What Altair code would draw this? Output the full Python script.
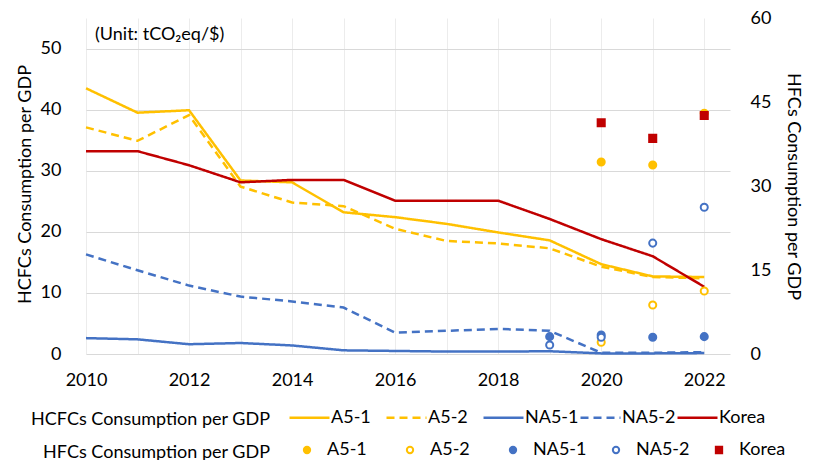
import altair as alt
import pandas as pd

years = list(range(2010, 2023))
series_order = ["A5-1", "A5-2", "NA5-1", "NA5-2", "Korea"]

# HCFCs consumption per GDP (left axis)
hcfc_a51 = [43.5, 39.5, 39.9, 28.4, 28.1, 23.2, 22.4, 21.3, 19.9, 18.6, 14.7, 12.7, 12.6]
hcfc_a52 = [37.1, 34.9, 39.1, 27.4, 24.8, 24.2, 20.5, 18.5, 18.1, 17.3, 14.3, 12.6, 12.4]
hcfc_na51 = [2.6, 2.4, 1.6, 1.8, 1.4, 0.6, 0.5, 0.4, 0.4, 0.45, 0.1, 0.1, 0.15]
hcfc_na52 = [16.3, 13.7, 11.2, 9.4, 8.6, 7.6, 3.5, 3.8, 4.1, 3.8, 0.2, 0.2, 0.3]
hcfc_korea = [33.2, 33.2, 30.9, 28.1, 28.5, 28.5, 25.1, 25.1, 25.1, 22.1, 18.8, 16.0, 11.0]

# HFCs consumption per GDP (right axis)
hfc_a51_years = [2020, 2021, 2022]
hfc_a51 = [34.3, 33.75, 43.0]
hfc_a52_years = [2020, 2021, 2022]
hfc_a52 = [2.1, 8.75, 11.25]
hfc_na51_years = [2019, 2020, 2021, 2022]
hfc_na51 = [3.1, 3.4, 3.0, 3.1]
hfc_na52_years = [2019, 2020, 2021, 2022]
hfc_na52 = [1.6, 3.0, 19.8, 26.2]
hfc_korea_years = [2020, 2021, 2022]
hfc_korea = [41.3, 38.5, 42.6]

left_ticks = [0, 10, 20, 30, 40, 50]
right_ticks = [0, 15, 30, 45, 60]
unit_text = "(Unit: tCO\u2082eq/$)"
row_titles = ["HCFCs Consumption per GDP", "HFCs Consumption per GDP"]

YELLOW = "#FFC000"
BLUE = "#4472C4"
RED = "#C00000"
FONT = "Lato"
FS = 18

rows = []
for name, vals in zip(series_order, [hcfc_a51, hcfc_a52, hcfc_na51, hcfc_na52, hcfc_korea]):
    for y, v in zip(years, vals):
        rows.append({"series": name, "year": y, "value": v})
lines_df = pd.DataFrame(rows)

prow = []
for name, ys, vals in zip(series_order,
                          [hfc_a51_years, hfc_a52_years, hfc_na51_years, hfc_na52_years, hfc_korea_years],
                          [hfc_a51, hfc_a52, hfc_na51, hfc_na52, hfc_korea]):
    for y, v in zip(ys, vals):
        prow.append({"hseries": name, "year": y, "value": v})
pts_df = pd.DataFrame(prow)

x_enc = alt.X(
    "year:Q",
    scale=alt.Scale(domain=[2010, 2022.5], nice=False, zero=False),
    axis=alt.Axis(values=years, labelExpr="datum.value % 2 == 0 ? datum.label : ''",
                  format="d", title=None, grid=True, gridColor="#ececec", ticks=False,
                  domain=False, labelPadding=17, labelFlush=False),
)

# the line legend's scale domain carries one unused extra entry so that Vega-Lite
# does not fold it into the marker legend (legends with identical domains are merged)
line_domain = series_order + ["_"]

line_legend = alt.Legend(title=None, orient="none", legendX=202, legendY=378, direction="horizontal",
                         columns=5, gridAlign="all", columnPadding=-9, labelOffset=0,
                         values=series_order,
                         symbolType="stroke", symbolSize=1600, symbolStrokeWidth=2.5,
                         labelFont=FONT, labelFontSize=FS, labelColor="black")

lines = alt.Chart(lines_df).mark_line(strokeWidth=2.5).encode(
    x=x_enc,
    y=alt.Y("value:Q", scale=alt.Scale(domain=[0, 55], nice=False),
            axis=alt.Axis(values=left_ticks, title="HCFCs Consumption per GDP", grid=True,
                          gridColor="#d9d9d9", ticks=False, domain=False, labelPadding=25,
                          titleX=-61, titleY=166, titleBaseline="middle")),
    color=alt.Color("series:N", scale=alt.Scale(domain=line_domain,
                                               range=[YELLOW, YELLOW, BLUE, BLUE, RED, "#000000"]),
                    legend=line_legend),
    strokeDash=alt.StrokeDash("series:N", scale=alt.Scale(domain=line_domain,
                                                         range=[[1, 0], [8, 5], [1, 0], [8, 5], [1, 0], [1, 0]]),
                              legend=line_legend),
)

pt_legend = alt.Legend(title=None, orient="none", legendX=202, legendY=423, direction="horizontal",
                       columns=5, gridAlign="all", columnPadding=10, labelOffset=11, symbolOffset=10,
                       symbolSize=40, symbolStrokeWidth=2, labelFont=FONT, labelFontSize=FS,
                       labelColor="black")

pts = alt.Chart(pts_df).mark_point(size=50, strokeWidth=2, opacity=1).encode(
    x=x_enc,
    y=alt.Y("value:Q", scale=alt.Scale(domain=[0, 60], nice=False),
            axis=alt.Axis(orient="right", values=right_ticks, title="HFCs Consumption per GDP",
                          grid=False, ticks=False, domain=False, labelPadding=20,
                          titleAngle=90, titleX=62, titleY=168, titleBaseline="middle")),
    shape=alt.Shape("hseries:N", scale=alt.Scale(domain=series_order,
                                                range=["circle", "circle", "circle", "circle", "square"]),
                    legend=pt_legend),
    fill=alt.Fill("hseries:N", scale=alt.Scale(domain=series_order,
                                              range=[YELLOW, "white", BLUE, "white", RED]),
                  legend=pt_legend),
    stroke=alt.Stroke("hseries:N", scale=alt.Scale(domain=series_order,
                                                  range=[YELLOW, YELLOW, BLUE, BLUE, RED]),
                      legend=pt_legend),
)

unit = alt.Chart(pd.DataFrame({"t": [unit_text]})).mark_text(
    align="left", baseline="middle", font=FONT, fontSize=FS, color="black"
).encode(text="t:N", x=alt.value(9), y=alt.value(17))

row_text1 = alt.Chart(pd.DataFrame({"t": [row_titles[0]]})).mark_text(
    align="right", baseline="middle", font=FONT, fontSize=FS, color="black"
).encode(text="t:N", x=alt.value(184), y=alt.value(401.5))
row_text2 = alt.Chart(pd.DataFrame({"t": [row_titles[1]]})).mark_text(
    align="right", baseline="middle", font=FONT, fontSize=FS, color="black"
).encode(text="t:N", x=alt.value(184), y=alt.value(434.5))

chart = alt.layer(lines, pts, unit, row_text1, row_text2).resolve_scale(y="independent").properties(
    width=644, height=336,
    padding={"left": 78, "top": 10, "right": 75, "bottom": 106},
    autosize=alt.AutoSizeParams(type="none"),
).configure_view(stroke=None).configure_axis(
    labelFont=FONT, labelFontSize=FS, labelColor="black",
    titleFont=FONT, titleFontSize=FS, titleFontWeight="normal", titleColor="black",
)

chart.save("out.html", embed_options={"renderer": "svg", "actions": False})
